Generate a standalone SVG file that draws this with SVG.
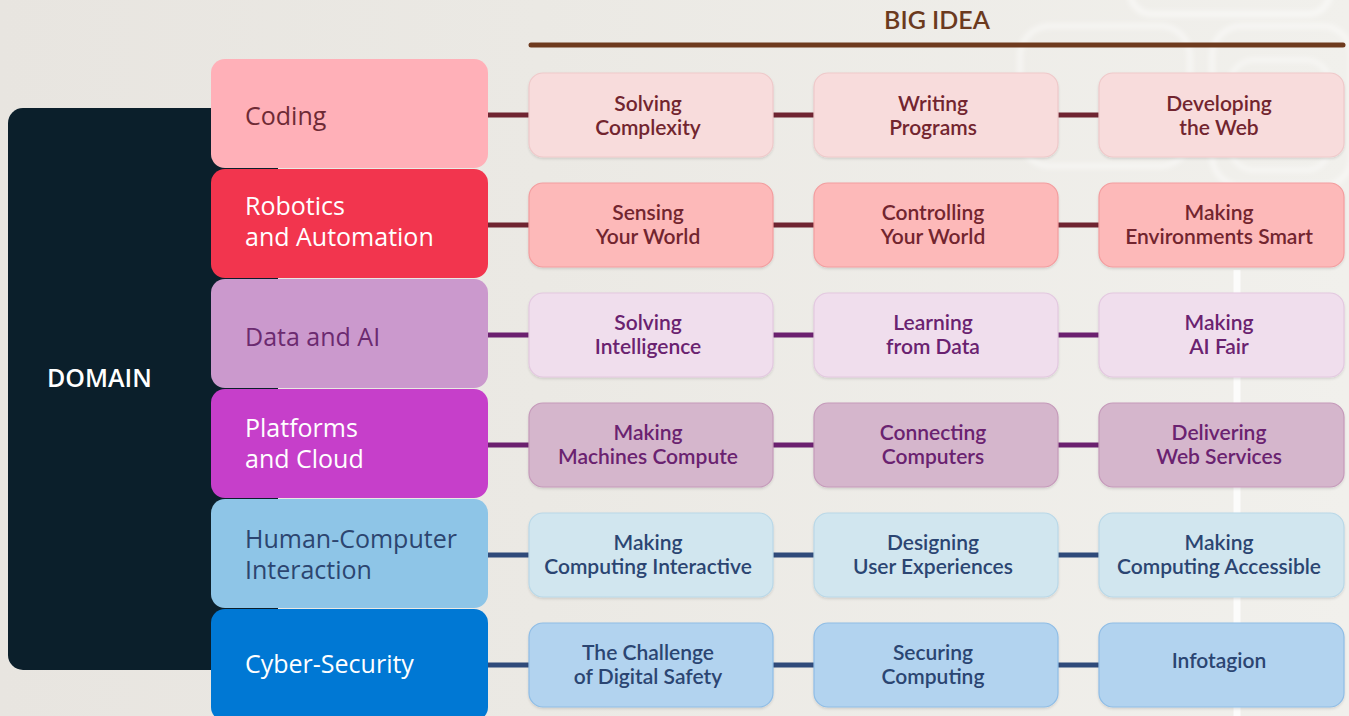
<svg xmlns="http://www.w3.org/2000/svg" width="1349" height="716" viewBox="0 0 1349 716">
<defs>
<linearGradient id="bg" x1="0" y1="0" x2="1" y2="0">
<stop offset="0" stop-color="#e8e5e0"/>
<stop offset="0.4" stop-color="#ebe9e4"/>
<stop offset="1" stop-color="#f1f0ec"/>
</linearGradient>
<filter id="sh" x="-10%" y="-10%" width="120%" height="130%">
<feDropShadow dx="0" dy="1.5" stdDeviation="1.2" flood-color="#000" flood-opacity="0.12"/>
</filter>
<filter id="soft" x="-20%" y="-20%" width="140%" height="140%">
<feGaussianBlur stdDeviation="2.5"/>
</filter>
</defs>
<style>
.dom{font-family:"Open Sans","Noto Sans",sans-serif;font-size:25px;font-weight:400}
.idea{font-family:Lato,"Open Sans",sans-serif;font-size:21px;font-weight:600;text-anchor:middle}
.ib{filter:url(#sh);stroke-width:1.2}
.r1{fill:#f8dcdc;stroke:#efc9ca}
.r2{fill:#fdb9b9;stroke:#f39d9f}
.r3{fill:#f0deed;stroke:#e3c8e0}
.r4{fill:#d5b6cc;stroke:#c59aba}
.r5{fill:#d1e6ef;stroke:#b9d8e8}
.r6{fill:#b2d3ef;stroke:#8fbde6}
.t1{fill:#72252f}
.t2{fill:#6a2270}
.t3{fill:#2b4572}
.c1{stroke:#6f2431}
.c2{stroke:#6b206f}
.c3{stroke:#2f4a7a}
#connectors line{stroke-width:5}
</style>
<rect width="1349" height="716" fill="url(#bg)"/>
<g id="decor" fill="none" stroke="#ffffff" stroke-opacity="0.5">
<rect x="1130" y="-30" width="200" height="44" rx="22" stroke-width="6" filter="url(#soft)"/>
<rect x="1020" y="26" width="170" height="140" rx="30" stroke-width="5" filter="url(#soft)"/>
<rect x="1212" y="26" width="140" height="160" rx="30" stroke-width="5" filter="url(#soft)"/>
<rect x="1230" y="60" width="100" height="110" rx="24" stroke-width="4" filter="url(#soft)"/>
<line x1="1237" y1="270" x2="1237" y2="716" stroke-width="7" stroke-opacity="0.8"/>
</g>
<g id="domain-panel">
<rect x="8" y="108" width="270" height="562" rx="15" fill="#0b1f2b"/>
<text x="47" y="387" fill="#ffffff" font-family="'Open Sans','Noto Sans',sans-serif" font-size="25" font-weight="600">DOMAIN</text>
</g>
<g id="big-idea-header">
<text x="937" y="29" fill="#6b3a1e" font-family="Lato,'Open Sans',sans-serif" font-size="25" font-weight="600" text-anchor="middle">BIG IDEA</text>
<line x1="531" y1="45" x2="1343" y2="45" stroke="#6e3a1e" stroke-width="5" stroke-linecap="round"/>
</g>
<g id="connectors">
<line class="c1" x1="488" y1="115" x2="529" y2="115"/>
<line class="c1" x1="773" y1="115" x2="814" y2="115"/>
<line class="c1" x1="1058" y1="115" x2="1099" y2="115"/>
<line class="c1" x1="488" y1="225" x2="529" y2="225"/>
<line class="c1" x1="773" y1="225" x2="814" y2="225"/>
<line class="c1" x1="1058" y1="225" x2="1099" y2="225"/>
<line class="c2" x1="488" y1="335" x2="529" y2="335"/>
<line class="c2" x1="773" y1="335" x2="814" y2="335"/>
<line class="c2" x1="1058" y1="335" x2="1099" y2="335"/>
<line class="c2" x1="488" y1="445" x2="529" y2="445"/>
<line class="c2" x1="773" y1="445" x2="814" y2="445"/>
<line class="c2" x1="1058" y1="445" x2="1099" y2="445"/>
<line class="c3" x1="488" y1="555" x2="529" y2="555"/>
<line class="c3" x1="773" y1="555" x2="814" y2="555"/>
<line class="c3" x1="1058" y1="555" x2="1099" y2="555"/>
<line class="c3" x1="488" y1="665" x2="529" y2="665"/>
<line class="c3" x1="773" y1="665" x2="814" y2="665"/>
<line class="c3" x1="1058" y1="665" x2="1099" y2="665"/>
</g>
<g id="domain-coding">
<rect x="211" y="59" width="277" height="109" rx="14" fill="#ffb0b8"/>
<text class="dom" x="245" y="125" fill="#6e2a35">Coding</text>
</g>
<g id="domain-robotics">
<rect x="211" y="169" width="277" height="109" rx="14" fill="#f2354e"/>
<text class="dom" x="245" y="215" fill="#ffffff">Robotics</text>
<text class="dom" x="245" y="246" fill="#ffffff">and Automation</text>
</g>
<g id="domain-data">
<rect x="211" y="279" width="277" height="109" rx="14" fill="#cb99cd"/>
<text class="dom" x="245" y="346" fill="#6b2a70">Data and AI</text>
</g>
<g id="domain-platforms">
<rect x="211" y="389" width="277" height="109" rx="14" fill="#c63fca"/>
<text class="dom" x="245" y="437" fill="#ffffff">Platforms</text>
<text class="dom" x="245" y="468" fill="#ffffff">and Cloud</text>
</g>
<g id="domain-hci">
<rect x="211" y="499" width="277" height="109" rx="14" fill="#8ec5e7"/>
<text class="dom" x="245" y="548" fill="#2c4570">Human-Computer</text>
<text class="dom" x="245" y="579" fill="#2c4570">Interaction</text>
</g>
<g id="domain-cyber">
<rect x="211" y="609" width="277" height="112" rx="14" fill="#0078d4"/>
<text class="dom" x="245" y="673" fill="#ffffff">Cyber-Security</text>
</g>
<g id="idea-solving-complexity">
<rect class="ib r1" x="529" y="73" width="244" height="84" rx="14"/>
<text class="idea t1" x="648" y="111">Solving</text>
<text class="idea t1" x="648" y="135">Complexity</text>
</g>
<g id="idea-writing-programs">
<rect class="ib r1" x="814" y="73" width="244" height="84" rx="14"/>
<text class="idea t1" x="933" y="111">Writing</text>
<text class="idea t1" x="933" y="135">Programs</text>
</g>
<g id="idea-developing-web">
<rect class="ib r1" x="1099" y="73" width="245" height="84" rx="14"/>
<text class="idea t1" x="1219" y="111">Developing</text>
<text class="idea t1" x="1219" y="135">the Web</text>
</g>
<g id="idea-sensing">
<rect class="ib r2" x="529" y="183" width="244" height="84" rx="14"/>
<text class="idea t1" x="648" y="220">Sensing</text>
<text class="idea t1" x="648" y="244">Your World</text>
</g>
<g id="idea-controlling">
<rect class="ib r2" x="814" y="183" width="244" height="84" rx="14"/>
<text class="idea t1" x="933" y="220">Controlling</text>
<text class="idea t1" x="933" y="244">Your World</text>
</g>
<g id="idea-environments">
<rect class="ib r2" x="1099" y="183" width="245" height="84" rx="14"/>
<text class="idea t1" x="1219" y="220">Making</text>
<text class="idea t1" x="1219" y="244">Environments Smart</text>
</g>
<g id="idea-solving-intelligence">
<rect class="ib r3" x="529" y="293" width="244" height="84" rx="14"/>
<text class="idea t2" x="648" y="330">Solving</text>
<text class="idea t2" x="648" y="354">Intelligence</text>
</g>
<g id="idea-learning">
<rect class="ib r3" x="814" y="293" width="244" height="84" rx="14"/>
<text class="idea t2" x="933" y="330">Learning</text>
<text class="idea t2" x="933" y="354">from Data</text>
</g>
<g id="idea-ai-fair">
<rect class="ib r3" x="1099" y="293" width="245" height="84" rx="14"/>
<text class="idea t2" x="1219" y="330">Making</text>
<text class="idea t2" x="1219" y="354">AI Fair</text>
</g>
<g id="idea-machines-compute">
<rect class="ib r4" x="529" y="403" width="244" height="84" rx="14"/>
<text class="idea t2" x="648" y="440">Making</text>
<text class="idea t2" x="648" y="464">Machines Compute</text>
</g>
<g id="idea-connecting">
<rect class="ib r4" x="814" y="403" width="244" height="84" rx="14"/>
<text class="idea t2" x="933" y="440">Connecting</text>
<text class="idea t2" x="933" y="464">Computers</text>
</g>
<g id="idea-web-services">
<rect class="ib r4" x="1099" y="403" width="245" height="84" rx="14"/>
<text class="idea t2" x="1219" y="440">Delivering</text>
<text class="idea t2" x="1219" y="464">Web Services</text>
</g>
<g id="idea-interactive">
<rect class="ib r5" x="529" y="513" width="244" height="84" rx="14"/>
<text class="idea t3" x="648" y="550">Making</text>
<text class="idea t3" x="648" y="574">Computing Interactive</text>
</g>
<g id="idea-user-experiences">
<rect class="ib r5" x="814" y="513" width="244" height="84" rx="14"/>
<text class="idea t3" x="933" y="550">Designing</text>
<text class="idea t3" x="933" y="574">User Experiences</text>
</g>
<g id="idea-accessible">
<rect class="ib r5" x="1099" y="513" width="245" height="84" rx="14"/>
<text class="idea t3" x="1219" y="550">Making</text>
<text class="idea t3" x="1219" y="574">Computing Accessible</text>
</g>
<g id="idea-digital-safety">
<rect class="ib r6" x="529" y="623" width="244" height="84" rx="14"/>
<text class="idea t3" x="648" y="660">The Challenge</text>
<text class="idea t3" x="648" y="684">of Digital Safety</text>
</g>
<g id="idea-securing">
<rect class="ib r6" x="814" y="623" width="244" height="84" rx="14"/>
<text class="idea t3" x="933" y="660">Securing</text>
<text class="idea t3" x="933" y="684">Computing</text>
</g>
<g id="idea-infotagion">
<rect class="ib r6" x="1099" y="623" width="245" height="84" rx="14"/>
<text class="idea t3" x="1219" y="668">Infotagion</text>
</g>
</svg>
